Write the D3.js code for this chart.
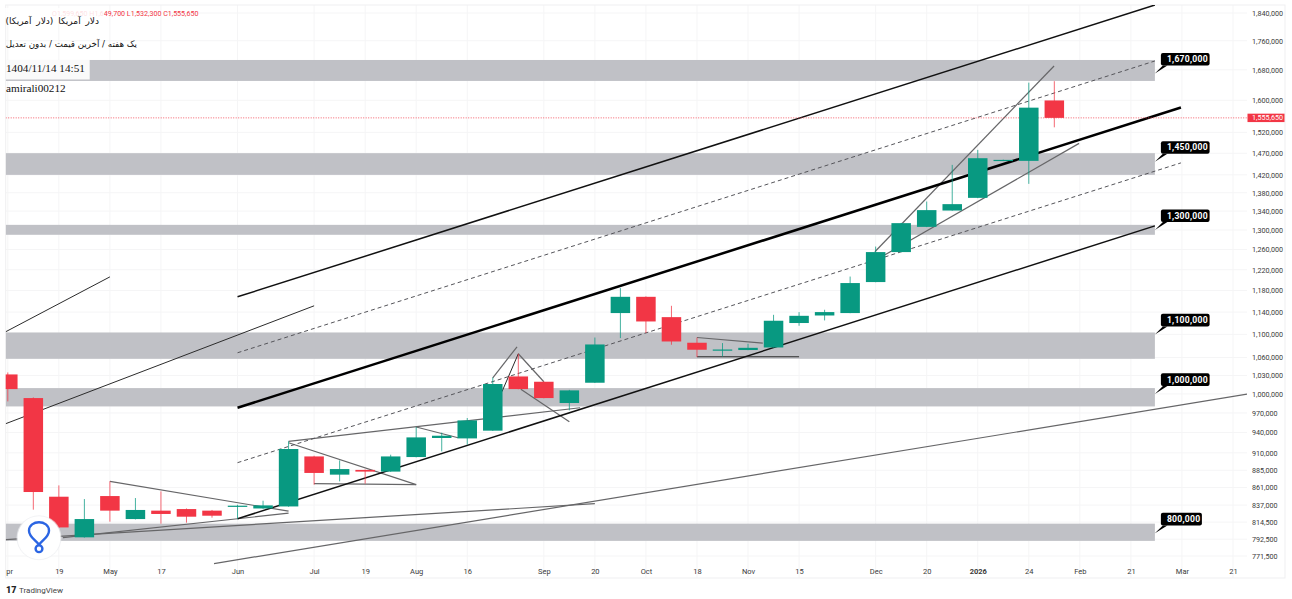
<!DOCTYPE html>
<html>

<head>
    <meta charset="utf-8">
    <title>USD weekly</title>
    <style>
        body { margin: 0; background: #fff; overflow: hidden; }
        .price text { font-family: Roboto, sans-serif; font-size: 7.2px; fill: #3a3a3a; }
        .time text { font-family: Roboto, sans-serif; font-size: 7.5px; fill: #3a3a3a; }
    </style>
</head>

<body>
    <script src="https://d3js.org/d3.v7.min.js"></script>
    <svg width="1292" height="599" id="mainsvg"></svg>

    <script>
        // weekly bars, index = bar number from the left edge
        const opens = [1031700, 993400, 848300, 794900, 849200, 818500, 829600, 831700, 829600, 834800, 832500, 835200, 904800, 878800, 885500, 883100, 903900, 931900, 931300, 942900, 1028400, 1019700, 985600, 1018100, 1138200, 1168200, 1130800, 1085400, 1072100, 1072800, 1077200, 1120200, 1133800, 1138200, 1196100, 1254900, 1306600, 1341200, 1368700, 1452100, 1452200, 1599650];
        const highs = [1035000, 994500, 863800, 845100, 869400, 846500, 855600, 832500, 830500, 837500, 842900, 926900, 905800, 899100, 886000, 907300, 948400, 939900, 962200, 1026700, 1066400, 1020000, 1006500, 1094500, 1184600, 1169000, 1151500, 1094500, 1084800, 1083600, 1135000, 1140000, 1144200, 1206700, 1266100, 1315000, 1360700, 1442900, 1478000, 1455000, 1645900, 1649700];
        const lows = [988100, 830900, 807000, 794500, 815100, 818000, 812500, 813800, 820300, 818900, 832000, 834800, 864800, 869400, 866200, 882800, 903500, 912100, 922000, 942500, 1007500, 993000, 974000, 1017700, 1093500, 1102400, 1081900, 1060800, 1061800, 1072500, 1077000, 1115300, 1124900, 1138000, 1195800, 1254500, 1306000, 1340800, 1368000, 1451800, 1399700, 1532300];
        const closes = [1007800, 854700, 807600, 818500, 829600, 830500, 825200, 821600, 822900, 836200, 836600, 915600, 881200, 886700, 883100, 904800, 932800, 935300, 958500, 1016000, 1007800, 993400, 1005700, 1082400, 1168200, 1123000, 1087600, 1073300, 1073700, 1076600, 1124300, 1133200, 1140000, 1194200, 1254900, 1314400, 1342100, 1355000, 1458400, 1454500, 1581300, 1555650];

        const priceTicks = [1840000, 1760000, 1680000, 1600000, 1520000, 1470000, 1420000, 1380000, 1340000, 1300000, 1260000, 1220000, 1180000, 1140000, 1100000, 1060000, 1030000, 1000000, 970000, 940000, 910000, 885000, 861000, 837000, 814500, 792500, 771500];
        const timeTickBars = [0, 2, 4, 6, 9, 12, 14, 16, 18, 21, 23, 25, 27, 29, 31, 34, 36, 38, 40, 42, 44, 46, 48];
        const timeTickLabels = ['Apr', '19', 'May', '17', 'Jun', 'Jul', '19', 'Aug', '16', 'Sep', '20', 'Oct', '18', 'Nov', '15', 'Dec', '20', '2026', '24', 'Feb', '21', 'Mar', '21'];

        // support / resistance zones and their callouts
        const zoneLow = [1650400, 1420000, 1290100, 1057800, 980200, 790400];
        const zoneHigh = [1706700, 1470200, 1310800, 1103400, 1009400, 812500];
        const zoneLevel = [1670000, 1450000, 1300000, 1100000, 1000000, 800000];

        // drawings: [bar, price, bar, price]
        const channelSolid = [[9, 1168200, 44.94, 1863700], [9, 818900, 44.94, 1308700]];
        const channelMid = [[9, 978100, 45.96, 1581800]];
        const channelDashed = [[9, 1068100, 44.94, 1704000], [9, 895800, 45.96, 1447500]];
        const darkLines = [
            [-0.08, 1104700, 4, 1206100], [-0.08, 953500, 12, 1151500],
            [27, 1061300, 31, 1061300], [19.36, 1003600, 20, 1066400]
        ];
        const grayLines = [
            [-0.08, 792000, 23, 838900], [8.08, 762200, 48.55, 999600],
            [4, 869400, 11, 828900], [2.16, 794500, 11, 826200],
            [11, 926900, 22.42, 978100], [11, 924900, 16, 864800], [12, 866200, 16, 864800],
            [16, 948400, 17.64, 932300], [19, 1026200, 19.95, 1078400],
            [20, 1066400, 21, 1019700], [20.1, 1007500, 22, 956500],
            [27, 1094500, 29.58, 1084800],
            [33.97, 1255500, 40.99, 1690300], [34.37, 1249400, 41.97, 1493400]
        ];

        const green = '#089981';
        const red = '#f23645';
        const plot = { left: 5.7, right: 1247, top: 5, bottom: 578, edge: 1285 };

        const svg = d3.select('#mainsvg');
        const xScale = d3.scaleLinear().domain([0, 48]).range([7.8, 1233]);
        const yScale = d3.scaleLog().domain([771500, 1840000]).range([556, 13]);

        svg.append('defs').append('clipPath').attr('id', 'plotclip').append('rect')
            .attr('x', plot.left).attr('y', plot.top)
            .attr('width', plot.right - plot.left).attr('height', plot.bottom - plot.top);

        // grid
        const grid = svg.append('g').attr('stroke', '#f5f5f6').attr('stroke-width', 1);
        grid.selectAll('.h').data(priceTicks).join('line').attr('class', 'h')
            .attr('x1', plot.left).attr('x2', plot.right)
            .attr('y1', d => yScale(d)).attr('y2', d => yScale(d));
        grid.selectAll('.v').data(timeTickBars).join('line').attr('class', 'v')
            .attr('x1', d => xScale(d)).attr('x2', d => xScale(d))
            .attr('y1', plot.top).attr('y2', plot.bottom);

        // frame
        svg.append('rect')
            .attr('x', plot.left).attr('y', plot.top)
            .attr('width', plot.edge - plot.left).attr('height', plot.bottom - plot.top)
            .attr('fill', 'none').attr('stroke', '#efeff1');

        const g = svg.append('g').attr('clip-path', 'url(#plotclip)');

        g.selectAll('.zone').data(zoneLevel).join('rect').attr('class', 'zone')
            .attr('x', plot.left)
            .attr('width', xScale(44.94) - plot.left)
            .attr('y', (d, i) => yScale(zoneHigh[i]))
            .attr('height', (d, i) => yScale(zoneLow[i]) - yScale(zoneHigh[i]))
            .attr('fill', '#c0c1c6');

        const drawLines = function (data, color, width, dash) {
            g.append('g').selectAll('line').data(data).join('line')
                .attr('x1', d => xScale(d[0])).attr('y1', d => yScale(d[1]))
                .attr('x2', d => xScale(d[2])).attr('y2', d => yScale(d[3]))
                .attr('stroke', color).attr('stroke-width', width)
                .attr('stroke-dasharray', dash);
        };
        drawLines(grayLines, '#666668', 1.2, null);
        drawLines(darkLines, '#2b2b2b', 1, null);
        drawLines(channelDashed, '#55555a', 1, '4 3');
        drawLines(channelSolid, '#111', 1.5, null);
        drawLines(channelMid, '#000', 2.5, null);

        // last price line
        g.append('line')
            .attr('x1', plot.left).attr('x2', plot.right)
            .attr('y1', yScale(closes[41])).attr('y2', yScale(closes[41]))
            .attr('stroke', red).attr('stroke-width', 0.8).attr('stroke-dasharray', '1 1.5');

        // candles
        const bars = d3.range(opens.length);
        const bodyWidth = 19.5;
        const barColor = i => closes[i] >= opens[i] ? green : red;
        g.selectAll('.wick').data(bars).join('line').attr('class', 'wick')
            .attr('x1', i => xScale(i)).attr('x2', i => xScale(i))
            .attr('y1', i => yScale(highs[i])).attr('y2', i => yScale(lows[i]))
            .attr('stroke', barColor).attr('stroke-width', 1).attr('opacity', 0.75);
        g.selectAll('.body').data(bars).join('rect').attr('class', 'body')
            .attr('x', i => xScale(i) - bodyWidth / 2)
            .attr('width', bodyWidth)
            .attr('y', i => yScale(Math.max(opens[i], closes[i])))
            .attr('height', i => Math.max(1.2, Math.abs(yScale(opens[i]) - yScale(closes[i]))))
            .attr('fill', barColor);

        // callout boxes sit about 8 px above the level
        const labelRise = d => yScale(d) - yScale(d * 1.0128);
        const callout = svg.append('g').selectAll('g').data(zoneLevel).join('g')
            .attr('transform', d => `translate(${xScale(44.94)}, ${yScale(d)})`);
        callout.append('path')
            .attr('d', d => `M0,0 L8,${-labelRise(d)} L12.5,${-labelRise(d)} Z`)
            .attr('fill', '#000');
        callout.append('rect')
            .attr('x', 6)
            .attr('y', d => -labelRise(d) - 12.7)
            .attr('width', d => d < 1000000 ? 41 : 48.7)
            .attr('height', 12.7)
            .attr('rx', 2)
            .attr('fill', '#000');
        callout.append('text')
            .attr('x', 12)
            .attr('y', d => -labelRise(d) - 3.4)
            .attr('font-family', 'Roboto, sans-serif')
            .attr('font-size', 8.6)
            .attr('font-weight', 700)
            .attr('letter-spacing', 0.25)
            .attr('fill', '#fff')
            .text(d => d3.format(',')(d));

        // price axis
        svg.append('g').attr('class', 'price')
            .attr('transform', 'translate(1252, 0)')
            .call(d3.axisRight(yScale).tickValues(priceTicks).tickSize(0).tickPadding(0).tickFormat(d3.format(',')))
            .call(a => a.select('.domain').remove());

        svg.append('rect')
            .attr('x', 1247.5).attr('y', yScale(closes[41]) - 4.2)
            .attr('width', 37).attr('height', 8.4).attr('fill', red);
        svg.append('text')
            .attr('x', 1252).attr('y', yScale(closes[41]) + 2.6)
            .attr('font-family', 'Roboto, sans-serif').attr('font-size', 7.2).attr('fill', '#fff')
            .text(d3.format(',')(closes[41]));

        // time axis
        const timeAxis = svg.append('g').attr('class', 'time')
            .attr('transform', 'translate(0, 565.5)')
            .call(d3.axisBottom(xScale).tickValues(timeTickBars).tickSize(0).tickPadding(3)
                .tickFormat((d, i) => timeTickLabels[i]));
        timeAxis.select('.domain').remove();
        timeAxis.select('.tick text').attr('text-anchor', 'start').attr('dx', -2.1).text('pr');
        timeAxis.selectAll('.tick text').filter((d, i) => timeTickLabels[i] === '2026').attr('font-weight', 700);

        // legend line, mostly hidden under the pasted white box
        svg.append('text')
            .attr('x', 52).attr('y', 15.5)
            .attr('font-family', 'Roboto, sans-serif').attr('font-size', 7.1).attr('fill', red)
            .text('O1,599,650  H1,649,700  L1,532,300  C1,555,650');
        svg.append('rect').attr('x', 0).attr('y', 8).attr('width', 104).attr('height', 10)
            .attr('fill', '#fff').attr('opacity', 0.85);

        // pasted header text
        const arabic = svg.append('g')
            .attr('font-family', '"DejaVu Sans", sans-serif')
            .attr('fill', '#111')
            .attr('direction', 'rtl');
        arabic.append('text').attr('x', 99).attr('y', 24).attr('font-size', 9).attr('word-spacing', 2)
            .text('دلار آمریکا (دلار آمریکا)');
        arabic.append('text').attr('x', 137).attr('y', 47).attr('font-size', 8.7)
            .text('یک هفته / آخرین قیمت / بدون تعدیل');

        svg.append('rect').attr('x', 5.7).attr('y', 60).attr('width', 84).attr('height', 19.5).attr('fill', '#fafafa');
        const stamp = svg.append('g')
            .attr('font-family', '"Liberation Serif", serif')
            .attr('font-size', 11.2)
            .attr('fill', '#111');
        stamp.append('text').attr('x', 6).attr('y', 72).text('1404/11/14 14:51');
        stamp.append('text').attr('x', 6).attr('y', 92).text('amirali00212');

        // round logo, bottom left
        const logo = svg.append('g').attr('transform', 'translate(39, 537.7)');
        logo.append('circle').attr('r', 22.5).attr('fill', '#eceef1').attr('opacity', 0.7);
        logo.append('circle').attr('r', 21.5).attr('fill', '#fff');
        logo.append('path')
            .attr('d', 'M0,7 C-4,2 -10,-1 -10,-7 C-10,-12.5 -5,-15.5 0,-15.5 C5,-15.5 10,-12.5 10,-7 C10,-1 4,2 0,7')
            .attr('fill', 'none').attr('stroke', '#2b65e3').attr('stroke-width', 2.4);
        logo.append('circle').attr('cy', 11).attr('r', 3.4)
            .attr('fill', 'none').attr('stroke', '#2b65e3').attr('stroke-width', 2.4);

        // footer
        svg.append('text')
            .attr('x', 6).attr('y', 593)
            .attr('font-family', 'Roboto, sans-serif').attr('font-size', 9).attr('font-weight', 900).attr('fill', '#222')
            .text('17');
        svg.append('text')
            .attr('x', 19).attr('y', 592.5)
            .attr('font-family', 'Roboto, sans-serif').attr('font-size', 8).attr('fill', '#444')
            .text('TradingView');
    </script>
</body>

</html>
